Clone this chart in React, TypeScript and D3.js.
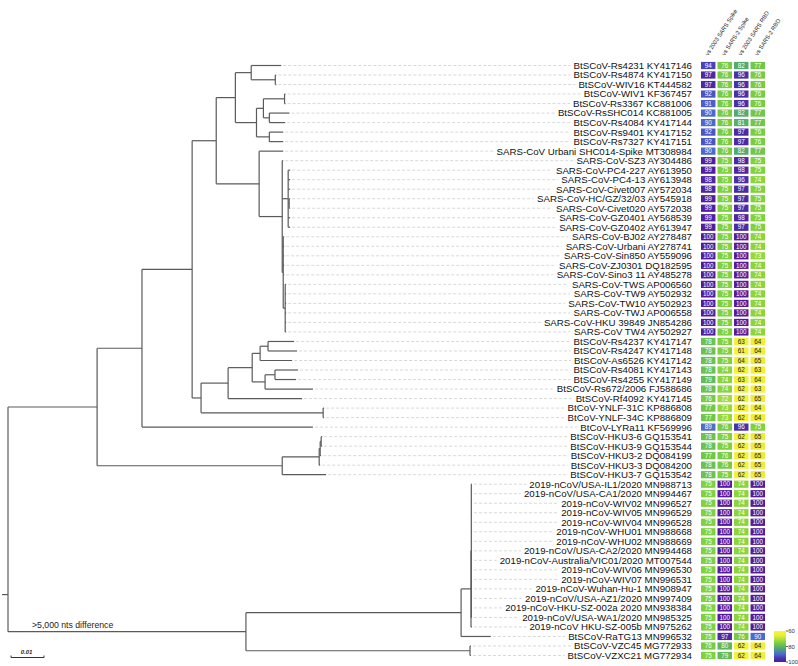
import React, { useMemo } from "react";
import * as d3 from "d3";

const W = 798;
const H = 666;

const taxa = [
  "BtSCoV-Rs4231 KY417146", "BtSCoV-Rs4874 KY417150", "BtSCoV-WIV16 KT444582", "BtSCoV-WIV1 KF367457",
  "BtSCoV-Rs3367 KC881006", "BtSCoV-RsSHC014 KC881005", "BtSCoV-Rs4084 KY417144", "BtSCoV-Rs9401 KY417152",
  "BtSCoV-Rs7327 KY417151", "SARS-CoV Urbani SHC014-Spike MT308984", "SARS-CoV-SZ3 AY304486",
  "SARS-CoV-PC4-227 AY613950", "SARS-CoV-PC4-13 AY613948", "SARS-CoV-Civet007 AY572034",
  "SARS-CoV-HC/GZ/32/03 AY545918", "SARS-CoV-Civet020 AY572038", "SARS-CoV-GZ0401 AY568539",
  "SARS-CoV-GZ0402 AY613947", "SARS-CoV-BJ02 AY278487", "SARS-CoV-Urbani AY278741", "SARS-CoV-Sin850 AY559096",
  "SARS-CoV-ZJ0301 DQ182595", "SARS-CoV-Sino3 11 AY485278", "SARS-CoV-TWS AP006560", "SARS-CoV-TW9 AY502932",
  "SARS-CoV-TW10 AY502923", "SARS-CoV-TWJ AP006558", "SARS-CoV-HKU 39849 JN854286", "SARS-CoV TW4 AY502927",
  "BtSCoV-Rs4237 KY417147", "BtSCoV-Rs4247 KY417148", "BtSCoV-As6526 KY417142", "BtSCoV-Rs4081 KY417143",
  "BtSCoV-Rs4255 KY417149", "BtSCoV-Rs672/2006 FJ588686", "BtSCoV-Rf4092 KY417145", "BtCoV-YNLF-31C KP886808",
  "BtCoV-YNLF-34C KP886809", "BtCoV-LYRa11 KF569996", "BtSCoV-HKU3-6 GQ153541", "BtSCoV-HKU3-9 GQ153544",
  "BtSCoV-HKU3-2 DQ084199", "BtSCoV-HKU3-3 DQ084200", "BtSCoV-HKU3-7 GQ153542",
  "2019-nCoV/USA-IL1/2020 MN988713", "2019-nCoV/USA-CA1/2020 MN994467", "2019-nCoV-WIV02 MN996527",
  "2019-nCoV-WIV05 MN996529", "2019-nCoV-WIV04 MN996528", "2019-nCoV-WHU01 MN988668", "2019-nCoV-WHU02 MN988669",
  "2019-nCoV/USA-CA2/2020 MN994468", "2019-nCoV-Australia/VIC01/2020 MT007544", "2019-nCoV-WIV06 MN996530",
  "2019-nCoV-WIV07 MN996531", "2019-nCoV-Wuhan-Hu-1 MN908947", "2019-nCoV/USA-AZ1/2020 MN997409",
  "2019-nCoV-HKU-SZ-002a 2020 MN938384", "2019-nCoV/USA-WA1/2020 MN985325", "2019-nCoV HKU-SZ-005b MN975262",
  "BtSCoV-RaTG13 MN996532", "BtSCoV-VZC45 MG772933", "BtSCoV-VZXC21 MG772934",
];

const columns = ["vs 2003 SARS Spike", "vs SARS-2 Spike", "vs 2003 SARS RBD", "vs SARS-2 RBD"];

const spike2003 = [
  94, 97, 97, 92, 91, 90, 90, 92, 92, 90,
  99, 99, 98, 98, 99, 99, 99, 99, 100, 100, 100, 100, 100, 100, 100, 100, 100, 100, 100,
  78, 78, 78, 78, 79, 78, 76, 77, 77, 89, 78, 78, 77, 78, 78,
  75, 75, 75, 75, 75, 75, 75, 75, 75, 75, 75, 75, 75, 75, 75, 75,
  75, 76, 75,
];
const spike2 = [
  76, 76, 76, 76, 76, 76, 76, 76, 76, 76,
  75, 75, 75, 75, 75, 75, 75, 75, 75, 75, 75, 75, 75, 75, 75, 75, 75, 75, 75,
  75, 75, 75, 74, 74, 74, 72, 73, 73, 76, 75, 75, 76, 76, 75,
  100, 100, 100, 100, 100, 100, 100, 100, 100, 100, 100, 100, 100, 100, 100, 100,
  97, 80, 79,
];
const rbd2003 = [
  82, 96, 96, 96, 96, 82, 81, 97, 97, 82,
  98, 98, 96, 97, 97, 97, 98, 97, 100, 100, 100, 100, 100, 100, 100, 100, 100, 100, 100,
  63, 61, 64, 62, 63, 62, 62, 62, 62, 96, 62, 62, 62, 62, 62,
  74, 74, 74, 74, 74, 74, 74, 74, 74, 74, 74, 74, 74, 74, 74, 74,
  76, 62, 62,
];
const rbd2 = [
  77, 76, 76, 76, 76, 77, 77, 76, 76, 77,
  75, 75, 74, 75, 75, 75, 75, 75, 74, 74, 73, 74, 74, 74, 74, 74, 74, 74, 74,
  64, 64, 65, 63, 64, 63, 65, 64, 64, 75, 65, 65, 65, 65, 65,
  100, 100, 100, 100, 100, 100, 100, 100, 100, 100, 100, 100, 100, 100, 100, 100,
  90, 64, 64,
];

// Tree topology (Newick, leaves tN = row N of taxa), branch lengths in substitutions/site
const batClade =
  "((t0:0.0091,(t1:0.0003,t2:0.0003):0.0073):0.0048,(((t3:0.0003,t4:0.0003):0.0064,(t5:0.0061,t6:0.0048):0.0018):0.0021,(t7:0.0042,t8:0.0042):0.0039):0.0064)";
const sarsClade =
  "(t9:0.0073,(t10:0.0003,(t11:0.0006,t12:0.0006,t13:0.0006,(t14:0.0003,t15:0.0003):0.0003,t16:0.0006,t17:0.0006):0.0018,(t18:0.0003,t19:0.0003,t20:0.0003,t21:0.0003,t22:0.0003,(t23:0.0003,t24:0.0003,t25:0.0003,t26:0.0003,t27:0.0003,t28:0.0003):0.0006):0.0003):0.0070)";
const rsClade =
  "(((((t29:0.0079,t30:0.0088):0.0024,t31:0.0097):0.0024,((t32:0.0070,t33:0.0064):0.0030,t34:0.0145):0.0039):0.0073,t35:0.0224):0.0082,(t36:0.0003,t37:0.0003):0.0370)";
const hku3Clade = "((((t39:0.0003,t40:0.0003):0.0003,t41:0.0003):0.0003,t42:0.0003):0.0112,t43:0.0133)";
const ncovClade =
  "((((t44:0.0002,t45:0.0002,t46:0.0002,t47:0.0002,t48:0.0002,t49:0.0002,t50:0.0002,t51:0.0002,t52:0.0002,t53:0.0002,t54:0.0002,t55:0.0002,t56:0.0002,t57:0.0002,t58:0.0002):0.0001,t59:0.0003):0.0030,t60:0.0090):0.0652,(t61:0.0003,t62:0.0003):0.0679)";
const newick = `(((((${batClade}:0.0058,${sarsClade}:0.0130):0.0073,${rsClade}:0.0027):0.0152,t38:0.0518):0.0136,${hku3Clade}:0.0561):0.0270,${ncovClade}:0.0721);`;

const rootStubRow = 55.6;
const legendTicks = [60, 80, 100];

type TNode = { name: string; len: number; children: TNode[]; depth?: number; y?: number; parent?: TNode };

function parseNewick(str: string): TNode {
  let i = 0;
  function node(): TNode {
    const n: TNode = { name: "", len: 0, children: [] };
    if (str[i] === "(") {
      i++;
      n.children.push(node());
      while (str[i] === ",") {
        i++;
        n.children.push(node());
      }
      i++;
    }
    let name = "";
    while (i < str.length && !",():;".includes(str[i])) name += str[i++];
    n.name = name.trim();
    if (str[i] === ":") {
      i++;
      let num = "";
      while (i < str.length && !",();".includes(str[i])) num += str[i++];
      n.len = parseFloat(num);
    }
    return n;
  }
  return node();
}

const colorScale = d3
  .scaleLinear<string>()
  .domain([60, 66, 75, 82, 90, 96, 100])
  .range(["#f7f735", "#e9ec3a", "#7ed23b", "#52aa6e", "#4a68cf", "#4a2fa9", "#551a98"])
  .interpolate(d3.interpolateRgb)
  .clamp(true);

export default function App() {
  const yScale = d3.scaleLinear().domain([0, taxa.length - 1]).range([65.5, 655.5]);
  const xScale = d3.scaleLinear().domain([0, 0.01]).range([8, 41]);
  const colX = d3.scaleBand().domain(columns).range([701, 765]).paddingInner(0.125);
  const legendY = d3.scaleLinear().domain([60, 100]).range([631, 662]);
  const labelRight = 692;
  const labelFont = 9.7;

  const { nodes, leaves, root } = useMemo(() => {
    const root = parseNewick(newick);
    const nodes: TNode[] = [];
    const leaves: TNode[] = [];
    function walk(n: TNode, d: number, parent?: TNode) {
      n.depth = d + n.len;
      n.parent = parent;
      nodes.push(n);
      if (n.children.length === 0) {
        leaves.push(n);
        n.y = yScale(parseInt(n.name.slice(1), 10));
      } else {
        n.children.forEach((c) => walk(c, n.depth!, n));
        n.y = (n.children[0].y! + n.children[n.children.length - 1].y!) / 2;
      }
    }
    root.len = 0;
    walk(root, 0);
    return { nodes, leaves, root };
  }, []);

  const measure = useMemo(() => {
    const ctx = document.createElement("canvas").getContext("2d")!;
    ctx.font = `${labelFont}px "Liberation Sans", Arial, sans-serif`;
    return (s: string) => ctx.measureText(s).width;
  }, []);

  const gradStops = d3.range(60, 100.01, 2);
  const treeColor = "#5a5a5a";
  const values = [spike2003, spike2, rbd2003, rbd2];

  return (
    <svg
      width={W}
      height={H}
      style={{ position: "absolute", left: 0, top: 0, background: "#fff" }}
      fontFamily="'Liberation Sans', Arial, sans-serif"
    >
      <defs>
        <linearGradient id="lg" x1="0" y1="0" x2="0" y2="1">
          {gradStops.map((v) => (
            <stop key={v} offset={(v - 60) / 40} stopColor={colorScale(v)} />
          ))}
        </linearGradient>
      </defs>

      {leaves.map((l) => {
        const name = taxa[parseInt(l.name.slice(1), 10)];
        const start = labelRight - measure(name) - 3;
        return (
          <line
            key={"d" + l.name}
            x1={xScale(l.depth!) + 2}
            x2={start}
            y1={l.y}
            y2={l.y}
            stroke="#cfcfcf"
            strokeWidth={0.8}
            strokeDasharray="3 2"
          />
        );
      })}

      <g stroke={treeColor} strokeWidth={1.2} fill="none">
        {nodes.map((n, i) =>
          n.children.length > 0 ? (
            <line
              key={"v" + i}
              x1={xScale(n.depth!)}
              x2={xScale(n.depth!)}
              y1={n.children[0].y}
              y2={n.children[n.children.length - 1].y}
            />
          ) : null
        )}
        {nodes.map((n, i) =>
          n.parent ? (
            <line
              key={"h" + i}
              x1={xScale(n.parent.depth!)}
              x2={xScale(n.depth!)}
              y1={n.y}
              y2={n.y}
            />
          ) : null
        )}
        <line x1={xScale(0) - 6} x2={xScale(0)} y1={yScale(rootStubRow)} y2={yScale(rootStubRow)} />
      </g>

      <text x={xScale(0) + 24} y={root.children[1].y! - 3.5} fontSize={8.7} fill="#222">
        &gt;5,000 nts difference
      </text>

      <g stroke="#333" strokeWidth={1} fill="none">
        <line x1={xScale(0) + 3} x2={xScale(0.01) + 3} y1={657.5} y2={657.5} />
        <line x1={xScale(0) + 3} x2={xScale(0) + 3} y1={655.5} y2={657.5} />
        <line x1={xScale(0.01) + 3} x2={xScale(0.01) + 3} y1={655.5} y2={657.5} />
      </g>
      <text
        x={(xScale(0) + xScale(0.01)) / 2 + 2}
        y={654}
        fontSize={6}
        fontStyle="italic"
        fontWeight="bold"
        textAnchor="middle"
        fill="#222"
      >
        0.01
      </text>

      {leaves.map((l) => (
        <text
          key={"t" + l.name}
          x={labelRight}
          y={l.y}
          dy="0.35em"
          textAnchor="end"
          fontSize={labelFont}
          fill="#111"
        >
          {taxa[parseInt(l.name.slice(1), 10)]}
        </text>
      ))}

      {columns.map((c, ci) => (
        <g key={c}>
          {values[ci].map((v, ri) => (
            <g key={ri}>
              <rect
                x={colX(c)}
                y={yScale(ri) - 3.6}
                width={colX.bandwidth()}
                height={7.2}
                fill={colorScale(v)}
              />
              <text
                x={colX(c)! + colX.bandwidth() / 2}
                y={yScale(ri)}
                dy="0.35em"
                textAnchor="middle"
                fontSize={6.3}
                fill={v < 70 ? "#222" : "#fff"}
              >
                {v}
              </text>
            </g>
          ))}
          <text
            transform={`translate(${colX(c)! + colX.bandwidth() / 2},56) rotate(-57)`}
            fontSize={5.8}
            fill="#222"
          >
            {c}
          </text>
        </g>
      ))}

      <rect x={774} y={legendY(60)} width={12} height={legendY(100) - legendY(60)} fill="url(#lg)" />
      {legendTicks.map((t) => (
        <g key={t}>
          <line x1={786} x2={788} y1={legendY(t)} y2={legendY(t)} stroke="#333" strokeWidth={0.8} />
          <text x={788.2} y={legendY(t)} dy="0.35em" fontSize={5.9} fill="#333">
            {t}
          </text>
        </g>
      ))}
    </svg>
  );
}
